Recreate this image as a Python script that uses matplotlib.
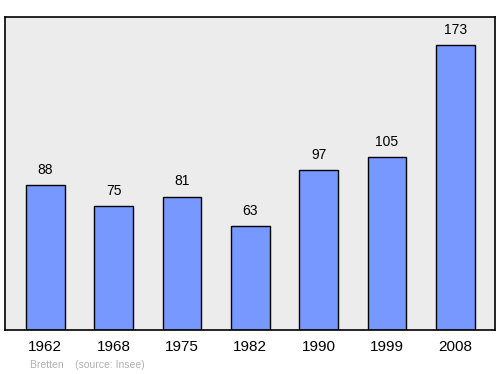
import matplotlib.pyplot as plt
import numpy as np

years = ["1962", "1968", "1975", "1982", "1990", "1999", "2008"]
population = [88, 75, 81, 63, 97, 105, 173]


def showdata():
    plt.rcParams['font.family'] = ['Liberation Sans', 'DejaVu Sans']
    fig = plt.figure(figsize=(5, 3.74), dpi=100)
    ax = fig.add_axes([5 / 500, 1 - 330 / 374, 490 / 500, 313 / 374])
    ax.set_facecolor('#ececec')
    x = np.arange(len(years))
    ax.bar(x, population, width=0.57, color='#7799ff', edgecolor='black', linewidth=1)
    for xi, v in zip(x, population):
        ax.annotate(str(v), (xi, v), xytext=(0, 6), textcoords='offset points',
                    ha='center', va='bottom', fontsize=10)
    ax.set_xlim(-0.59, 6.58)
    ax.set_ylim(0, 190)
    ax.set_xticks(x)
    ax.set_xticklabels(years, fontsize=11)
    ax.tick_params(axis='x', length=0, pad=7)
    ax.set_yticks([])
    for s in ax.spines.values():
        s.set_linewidth(1.2)
    fig.text(30 / 500, 1 - 365 / 374, "Bretten    (source: Insee)", fontsize=7.5,
             color='#b0b0b0', va='center')
    fig.savefig("out.png")


if __name__ == "__main__":
    showdata()
